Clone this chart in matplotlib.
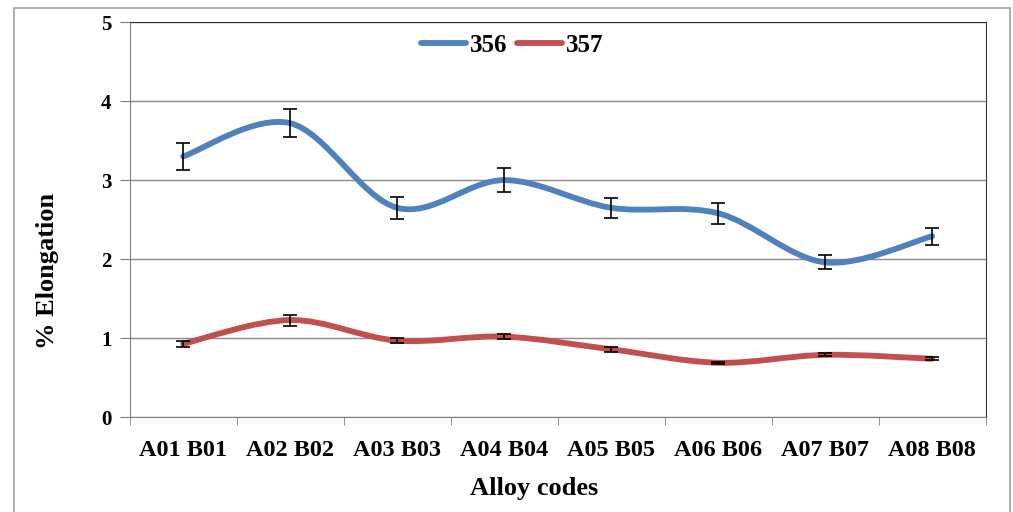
import matplotlib
matplotlib.use('Agg')
import matplotlib.pyplot as plt
import numpy as np
from matplotlib.path import Path
from matplotlib.patches import PathPatch, Rectangle

codes = ['A01 B01', 'A02 B02', 'A03 B03', 'A04 B04', 'A05 B05', 'A06 B06', 'A07 B07', 'A08 B08']
elong_356 = [3.30, 3.72, 2.65, 3.00, 2.65, 2.58, 1.96, 2.29]
err_356 = [0.17, 0.18, 0.14, 0.15, 0.13, 0.13, 0.09, 0.11]
elong_357 = [0.93, 1.23, 0.97, 1.02, 0.86, 0.69, 0.79, 0.74]
err_357 = [0.04, 0.07, 0.03, 0.03, 0.03, 0.01, 0.02, 0.02]

plt.rcParams['font.family'] = ['Liberation Serif', 'DejaVu Serif']
plt.rcParams['font.weight'] = 'bold'

def smooth_path(x, y):
    # excel-like smoothed line: catmull-rom as cubic bezier
    pts = np.column_stack([x, y]).astype(float)
    n = len(pts)
    verts = [pts[0]]
    codes_ = [Path.MOVETO]
    for i in range(n - 1):
        p0 = pts[i - 1] if i > 0 else pts[i]
        p1 = pts[i]
        p2 = pts[i + 1]
        p3 = pts[i + 2] if i + 2 < n else pts[i + 1]
        c1 = p1 + (p2 - p0) / 6.0
        c2 = p2 - (p3 - p1) / 6.0
        verts += [c1, c2, p2]
        codes_ += [Path.CURVE4] * 3
    return Path(verts, codes_)

fig = plt.figure(figsize=(10.13, 5.12), dpi=100)
ax = fig.add_axes([0.128, 0.185, 0.845, 0.772])
x = np.arange(len(codes))

for vals, errs, col, lab in [(elong_356, err_356, '#4F81BD', '356'),
                             (elong_357, err_357, '#C0504D', '357')]:
    ax.add_patch(PathPatch(smooth_path(x, vals), fill=False, edgecolor=col,
                           lw=4.2, capstyle='round', zorder=3))
    ax.plot([], [], color=col, lw=4.2, label=lab, solid_capstyle='round')
    ax.errorbar(x, vals, yerr=errs, fmt='none', ecolor='black', elinewidth=1.2,
                capsize=5, capthick=1.2, zorder=4)

ax.set_xlim(-0.5, len(codes) - 0.5)
ax.set_ylim(0, 5)
ax.set_yticks(range(6))
ax.set_xticks(x)
ax.set_xticklabels(codes, fontsize=17.5)
ax.set_xticks(np.arange(len(codes) + 1) - 0.5, minor=True)
ax.tick_params(axis='x', which='major', length=0, pad=16)
ax.tick_params(axis='x', which='minor', length=6, color='#808080')
ax.tick_params(axis='y', labelsize=15, length=7, color='#808080', pad=6)
ax.yaxis.grid(True, color='#8c8c8c', lw=1.0)
ax.set_axisbelow(True)
for s in ['left', 'bottom']:
    ax.spines[s].set_color('#808080')
for s in ['top', 'right']:
    ax.spines[s].set_color('#333333')
ax.set_xlabel('Alloy codes', fontsize=19, fontweight='bold')
ax.xaxis.set_label_coords(0.473, -0.15)
ax.set_ylabel('% Elongation', fontsize=19, fontweight='bold')
ax.yaxis.set_label_coords(-0.083, 0.37)

ax.legend(loc='center', bbox_to_anchor=(0.447, 0.94), ncol=2, frameon=False,
          fontsize=18, handlelength=1.8, handletextpad=0.15, columnspacing=0.4)

fig.add_artist(Rectangle((14 / 1013, -0.02), 996 / 1013, 1 - 8 / 512 + 0.02,
                         transform=fig.transFigure, fill=False,
                         edgecolor='#a0a0a0', lw=1.2))

plt.savefig('out.png', dpi=100)
